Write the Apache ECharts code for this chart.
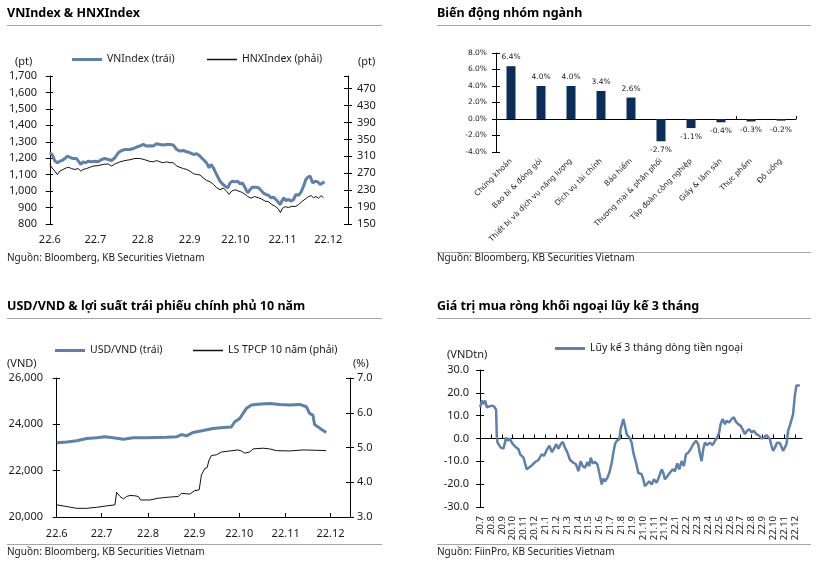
<!DOCTYPE html>
<html><head><meta charset="utf-8">
<script src="https://cdn.jsdelivr.net/npm/echarts@6/dist/echarts.min.js"></script>
<style>html,body{margin:0;padding:0;background:#fff}#c{width:826px;height:561px}</style>
</head><body><div id="c"></div>
<script>
// ---------- Panel 1: VNIndex & HNXIndex (x = days since 2022-06-01) ----------
const monthTicks6 = [0, 30, 61, 92, 122, 153, 183];
const monthLabels6 = ['22.6', '22.7', '22.8', '22.9', '22.10', '22.11', '22.12'];
const vnDays = [0,1.5,3.3,5.0,6.6,8.1,9.9,11.6,12.5,13.8,15.4,17.6,18.7,20.4,21.9,23.5,25.2,27.4,29.6,31.8,34.0,36.2,38.4,40.6,42.8,45.0,47.2,49.4,52.7,54.9,57.1,59.2,61.4,63.6,65.8,68.0,70.2,72.4,74.6,76.8,79.0,81.2,83.4,85.6,87.8,90.0,92.2,94.4,96.6,98.7,100.9,103.1,104.7,106.0,107.5,109.1,110.4,111.9,113.5,115.2,117.0,118.5,120.0,121.8,123.5,125.1,126.6,128.4,130.1,131.7,133.2,135.4,137.2,138.9,140.4,142.0,143.7,145.5,147.0,148.6,150.0,151.4,152.5,153.8,155.1,156.9,158.7,160.2,161.7,163.5,165.2,166.8,168.3,169.6,171.2,172.7,174.5,176.2,177.8,179.3,180.6];
const vnIndex = [1233,1223,1186,1172,1182,1186,1198,1213,1223,1203,1198,1198,1192,1162,1178,1172,1182,1178,1182,1178,1192,1198,1192,1186,1203,1233,1247,1253,1253,1259,1268,1274,1284,1274,1276,1274,1288,1284,1280,1284,1284,1280,1253,1243,1247,1239,1233,1223,1227,1213,1192,1172,1142,1162,1142,1111,1121,1060,1044,1030,1020,1050,1060,1056,1060,1044,1050,1020,989,1010,1024,1024,1020,1004,989,979,975,959,963,949,935,918,939,959,943,949,939,949,979,975,995,1030,1071,1085,1091,1050,1060,1056,1040,1050,1056];
const hnxDays = [0,1.5,3.3,5.0,6.6,8.8,11.0,12.5,14.3,16.5,18.7,20.4,21.9,24.1,26.3,28.5,31.8,35.1,38.4,40.6,42.8,46.1,49.4,52.7,56.0,59.2,62.5,65.8,68.0,70.2,72.4,74.6,76.8,79.0,81.2,83.4,85.6,87.8,90.0,92.2,94.4,96.6,98.7,100.9,103.1,105.3,107.5,109.7,111.9,114.1,116.3,117.8,119.6,121.8,124.0,126.2,128.4,130.1,132.3,134.5,137.2,139.3,141.5,143.7,145.9,148.1,150.3,151.6,152.9,154.7,156.9,159.1,161.3,163.5,165.7,167.9,170.1,171.8,173.4,174.9,176.6,178.4,179.9];
const hnxIndex = [291,283,275,267,275,279,283,284,281,279,281,275,279,281,284,287,288,291,292,287,292,297,300,302,305,305,302,298,297,300,297,295,297,295,295,287,284,281,279,275,269,267,266,259,253,250,244,236,231,235,227,220,228,231,228,225,220,215,211,215,212,209,204,203,196,192,185,177,187,191,189,192,191,196,203,209,215,217,212,215,211,217,212];

// ---------- Panel 2: Biến động nhóm ngành ----------
const sectors = ['Chứng khoán','Bao bì & đóng gói','Thiết bị và dịch vụ năng lượng','Dịch vụ tài chính','Bảo hiểm','Thương mại & phân phối','Tập đoàn công nghiệp','Giấy & lâm sản','Thực phẩm','Đồ uống'];
const sectorChange = [6.4, 4.0, 4.0, 3.4, 2.6, -2.7, -1.1, -0.4, -0.3, -0.2];

// ---------- Panel 3: USD/VND & 10Y bond yield (x = days since 2022-06-01) ----------
const usdDays = [0,6.7,13.3,20.0,26.7,32.2,37.8,44.5,51.1,60.0,66.7,73.4,80.1,83.4,86.7,91.2,97.8,104.5,111.2,116.7,119.0,122.3,124.5,126.8,130.1,134.5,142.3,149.0,155.7,162.3,166.8,169.0,171.2,172.3,174.6,176.8,180.1];
const usdVnd = [23200,23240,23290,23390,23420,23460,23420,23360,23420,23420,23430,23440,23460,23560,23500,23650,23730,23820,23860,23890,24110,24250,24470,24690,24830,24870,24900,24860,24830,24860,24760,24470,24400,23990,23890,23790,23650];
const bondDays = [0,6.7,13.3,20.0,26.7,33.4,38.9,40.0,42.3,44.5,46.7,48.9,52.3,54.5,56.0,62.3,67.8,74.5,81.2,83.4,88.9,92.3,95.2,96.7,99.0,100.5,101.8,103.4,106.7,110.1,115.6,121.2,123.4,125.6,129.0,131.2,137.9,142.3,146.8,155.7,164.6,173.4,180.1];
const bondYield = [3.35,3.30,3.25,3.25,3.28,3.32,3.35,3.71,3.59,3.52,3.59,3.62,3.61,3.59,3.49,3.49,3.54,3.57,3.59,3.68,3.66,3.76,3.78,4.21,4.40,4.42,4.64,4.77,4.79,4.87,4.90,4.93,4.90,4.84,4.87,4.96,4.98,4.96,4.91,4.90,4.93,4.92,4.91];

// ---------- Panel 4: foreign net buying, 3M rolling (x = months since 2020-07) ----------
const fxTicks = [0,1,2,3,4,5,6,7,8,9,10,11,12,13,14,15,16,17,18,19,20,21,22,23,24,25,26,27,28,29];
const fxMonthLabels = ['20.7','20.8','20.9','20.10','20.11','20.12','21.1','21.2','21.3','21.4','21.5','21.6','21.7','21.8','21.9','21.10','21.11','21.12','22.1','22.2','22.3','22.4','22.5','22.6','22.7','22.8','22.9','22.10','22.11','22.12'];
const fxMonths = [0.00,0.15,0.31,0.46,0.61,0.77,1.07,1.29,1.47,1.53,1.60,1.78,1.90,2.15,2.30,2.39,2.52,2.70,2.82,3.01,3.22,3.53,3.68,3.83,3.99,4.14,4.29,4.45,4.75,5.06,5.37,5.67,5.89,6.13,6.38,6.60,6.81,6.99,7.21,7.42,7.61,7.82,8.04,8.28,8.59,8.83,9.05,9.26,9.45,9.66,9.88,10.06,10.18,10.37,10.58,10.80,11.04,11.20,11.35,11.50,11.72,11.90,12.12,12.27,12.42,12.58,12.82,12.94,13.19,13.34,13.50,13.74,13.96,14.11,14.36,14.57,14.88,15.03,15.18,15.34,15.58,15.80,16.01,16.26,16.50,16.72,16.87,17.02,17.24,17.48,17.73,17.94,18.16,18.34,18.56,18.77,18.96,19.17,19.39,19.63,19.88,20.09,20.25,20.40,20.55,20.71,20.92,21.17,21.41,21.63,21.84,22.02,22.15,22.33,22.55,22.70,22.94,23.16,23.37,23.56,23.77,23.99,24.17,24.39,24.60,24.79,25.00,25.21,25.46,25.71,25.92,26.13,26.38,26.53,26.69,26.84,26.99,27.15,27.36,27.61,27.76,27.91,28.07,28.22,28.37,28.53,28.68,28.83,28.99,29.14,29.29,29.45];
const fxFlow = [13.7,16.6,15.1,16.6,13.7,14.4,14.4,14.0,12.6,1.0,-1.8,-1.0,-4.0,-4.4,-4.0,0.4,-1.0,0.0,0.4,-2.5,-3.5,-4.7,-6.9,-6.2,-8.4,-7.6,-13.5,-12.8,-11.8,-10.3,-9.4,-6.9,-7.6,-5.0,-3.2,-5.9,-4.4,-2.5,-4.4,-2.5,-1.5,-4.0,-6.2,-9.4,-10.6,-11.3,-14.3,-9.9,-12.1,-12.8,-10.3,-12.1,-8.4,-10.9,-10.3,-11.3,-16.5,-20.1,-17.6,-18.7,-17.2,-15.0,-10.6,-6.2,-2.5,-1.0,-0.3,4.1,8.5,5.6,1.9,0.4,-1.8,-6.2,-10.6,-15.0,-15.7,-17.9,-20.9,-21.6,-18.7,-20.1,-17.9,-19.4,-16.5,-13.5,-15.0,-17.9,-16.5,-15.0,-13.5,-14.3,-10.9,-13.5,-9.9,-12.1,-6.9,-6.2,-4.7,-2.5,-1.0,-2.5,-6.9,-9.9,-4.7,-1.8,-2.9,-1.8,-2.9,-1.0,0.4,2.6,6.3,8.5,6.3,7.8,7.0,8.5,9.3,7.4,6.3,5.6,4.1,1.9,3.4,4.1,2.6,3.4,1.9,1.2,0.0,0.4,1.5,1.9,-0.3,-3.2,-5.4,-4.0,-1.8,-2.0,-1.8,-5.4,-5.0,-2.5,3.4,5.6,6.3,10.7,18.8,23.2,24.0,23.2];

// ---------- styling ----------
const BLUE = '#5f80ab', BLACK = '#111', NAVY = '#0b2d5a', AX = '#000', TXT = '#1a1a1a', RULE = '#a6a6a6';
const F = 'Noto Sans', F2 = 'DejaVu Sans';
const zip = (xs, ys) => xs.map((x, i) => [x, ys[i]]);
const lbl = (size, extra) => Object.assign({ color: TXT, fontFamily: F, fontSize: size }, extra || {});
const comma = v => v.toLocaleString('en-US');

function yAx(grid, pos, min, max, interval, labelCfg) {
  return { type: 'value', gridIndex: grid, position: pos, min, max, interval,
    splitLine: { show: false },
    axisLine: { show: true, lineStyle: { color: AX, width: 1 } },
    axisTick: { show: true, length: 4, lineStyle: { color: AX } },
    axisLabel: labelCfg };
}
function twin(a) {
  return { type: 'value', gridIndex: a.gridIndex, position: a.position, min: a.min, max: a.max, interval: a.interval,
    splitLine: { show: false }, axisLine: { show: false }, axisLabel: { show: false },
    axisTick: { show: true, inside: true, length: 4, lineStyle: { color: AX } } };
}

const yAxes = [
  yAx(0, 'left', 800, 1700, 100, lbl(11, { margin: 12, formatter: comma })),
  yAx(0, 'right', 150, 500, 40, lbl(11, { margin: 9, showMaxLabel: false })),
  yAx(1, 'left', -4, 8, 2, { color: TXT, fontFamily: F2, fontSize: 7.5, margin: 9, formatter: v => v.toFixed(1) + '%' }),
  yAx(2, 'left', 20000, 26000, 2000, lbl(11, { margin: 13, formatter: comma })),
  yAx(2, 'right', 3, 7, 1, lbl(11, { margin: 7, formatter: v => v.toFixed(1) })),
  yAx(3, 'left', -30, 30, 10, lbl(11, { margin: 9, formatter: v => v.toFixed(1) }))
];
const allY = yAxes.concat(yAxes.map(twin));

const xAxes = [
  { type: 'value', gridIndex: 0, min: -0.5, max: 196, splitLine: { show: false },
    axisLine: { show: false }, axisTick: { show: false },
    axisLabel: lbl(11, { margin: 10, customValues: monthTicks6, formatter: v => monthLabels6[monthTicks6.indexOf(v)] }) },
  { type: 'category', gridIndex: 1, data: sectors, axisLine: { show: true, onZero: true, lineStyle: { color: AX } },
    axisTick: { show: true, inside: true, length: 3, lineStyle: { color: AX } }, axisLabel: { show: false } },
  { type: 'category', gridIndex: 1, data: sectors, position: 'bottom', axisLine: { show: false, onZero: false },
    axisTick: { show: false },
    axisLabel: { color: TXT, fontFamily: F2, fontSize: 7.5, rotate: 45, interval: 0, margin: 8 } },
  { type: 'value', gridIndex: 2, min: -0.5, max: 196, splitLine: { show: false },
    axisLine: { show: true, onZero: false, lineStyle: { color: AX } },
    axisTick: { show: true, inside: true, length: 4, customValues: monthTicks6, lineStyle: { color: AX } },
    axisLabel: lbl(11, { margin: 11, customValues: monthTicks6, formatter: v => monthLabels6[monthTicks6.indexOf(v)] }) },
  { type: 'value', gridIndex: 3, min: -0.2, max: 29.65, splitLine: { show: false },
    axisLine: { show: true, onZero: true, lineStyle: { color: AX } },
    axisTick: { show: true, inside: true, length: 4, customValues: fxTicks, lineStyle: { color: AX } },
    axisLabel: { show: false } },
  { type: 'value', gridIndex: 3, min: -0.2, max: 29.65, position: 'bottom', splitLine: { show: false },
    axisLine: { show: false, onZero: false }, axisTick: { show: false },
    axisLabel: lbl(9.5, { margin: 9, rotate: 90, customValues: fxTicks, formatter: v => fxMonthLabels[v] }) }
];

const legendBase = (name, left, top, h) => ({ data: [name], left, top, padding: 0, icon: 'rect', itemWidth: 30, itemHeight: h,
  selectedMode: false, textStyle: lbl(10.5) });

const titleStyle = { fontFamily: F, fontSize: 12.5, fontWeight: 'bold', color: '#000' };
const gtext = (text, left, top, size) => ({ type: 'text', left, top, style: { text, font: size + 'px "' + F + '"', fill: TXT } });
const gline = (x1, y, x2) => ({ type: 'line', shape: { x1, y1: y + 0.5, x2, y2: y + 0.5 }, style: { stroke: RULE, lineWidth: 1 } });

const option = {
  animation: false,
  backgroundColor: '#fff',
  title: [
    { text: 'VNIndex & HNXIndex', left: 7, top: 7, padding: 0, textStyle: titleStyle },
    { text: 'Biến động nhóm ngành', left: 437, top: 7, padding: 0, textStyle: titleStyle },
    { text: 'USD/VND & lợi suất trái phiếu chính phủ 10 năm', left: 7, top: 300, padding: 0, textStyle: titleStyle },
    { text: 'Giá trị mua ròng khối ngoại lũy kế 3 tháng', left: 437, top: 300, padding: 0, textStyle: titleStyle }
  ],
  legend: [
    legendBase('VNIndex (trái)', 72, 54, 3),
    legendBase('HNXIndex (phải)', 207, 54, 1.5),
    legendBase('USD/VND (trái)', 55, 345, 3),
    legendBase('LS TPCP 10 năm (phải)', 193, 345, 1.5),
    legendBase('Lũy kế 3 tháng dòng tiền ngoại', 555, 343, 3)
  ],
  grid: [
    { left: 49, right: 478, top: 76, bottom: 337 },
    { left: 496, right: 30, top: 53, bottom: 409 },
    { left: 56, right: 476, top: 378, bottom: 44 },
    { left: 478, right: 24, top: 370, bottom: 54 }
  ],
  xAxis: xAxes,
  yAxis: allY,
  graphic: [
    gline(7, 25, 382), gline(437, 25, 811), gline(7, 318, 382), gline(437, 318, 811),
    gline(437, 252, 811), gline(7, 544, 382), gline(437, 544, 811),
    gtext('(pt)', 15, 56, 11), gtext('(pt)', 358, 56, 11),
    gtext('(VND)', 7, 358, 11), gtext('(%)', 353, 358, 11), gtext('(VNDtn)', 447, 349, 11),
    gtext('Nguồn: Bloomberg, KB Securities Vietnam', 7, 253, 10),
    gtext('Nguồn: Bloomberg, KB Securities Vietnam', 437, 253, 10),
    gtext('Nguồn: Bloomberg, KB Securities Vietnam', 7, 547, 10),
    gtext('Nguồn: FiinPro, KB Securities Vietnam', 437, 547, 10)
  ],
  series: [
    { name: 'VNIndex (trái)', type: 'line', xAxisIndex: 0, yAxisIndex: 0, data: zip(vnDays, vnIndex), showSymbol: false, symbol: 'none',
      lineStyle: { color: BLUE, width: 3 }, itemStyle: { color: BLUE }, z: 3 },
    { name: 'HNXIndex (phải)', type: 'line', xAxisIndex: 0, yAxisIndex: 1, data: zip(hnxDays, hnxIndex), showSymbol: false, symbol: 'none',
      lineStyle: { color: BLACK, width: 1 }, itemStyle: { color: BLACK }, z: 2 },
    { name: 'sector', type: 'bar', xAxisIndex: 1, yAxisIndex: 2, barWidth: 9, itemStyle: { color: NAVY },
      data: sectorChange.map(v => ({ value: v, label: { position: v >= 0 ? 'top' : 'bottom' } })),
      label: { show: true, distance: 5, color: TXT, fontFamily: F2, fontSize: 7.5, formatter: p => p.value.toFixed(1) + '%' } },
    { name: 'USD/VND (trái)', type: 'line', xAxisIndex: 3, yAxisIndex: 3, data: zip(usdDays, usdVnd), showSymbol: false, symbol: 'none',
      lineStyle: { color: BLUE, width: 3 }, itemStyle: { color: BLUE }, z: 3 },
    { name: 'LS TPCP 10 năm (phải)', type: 'line', xAxisIndex: 3, yAxisIndex: 4, data: zip(bondDays, bondYield), showSymbol: false, symbol: 'none',
      lineStyle: { color: BLACK, width: 1 }, itemStyle: { color: BLACK }, z: 2 },
    { name: 'Lũy kế 3 tháng dòng tiền ngoại', type: 'line', xAxisIndex: 4, yAxisIndex: 5, data: zip(fxMonths, fxFlow), showSymbol: false, symbol: 'none',
      lineStyle: { color: BLUE, width: 2.5 }, itemStyle: { color: BLUE }, z: 3 }
  ]
};
const chart = echarts.init(document.getElementById('c'), null, { renderer: 'canvas' });
chart.setOption(option);
</script>
</body></html>
